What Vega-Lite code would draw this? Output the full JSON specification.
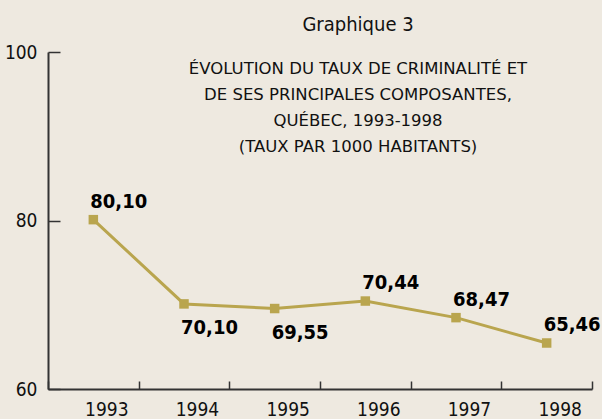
{
  "$schema": "https://vega.github.io/schema/vega-lite/v6.json",
  "width": 544,
  "height": 337,
  "autosize": {"type": "none"},
  "padding": {"left": 48, "top": 52, "right": 10, "bottom": 30},
  "background": "#EEE9E0",
  "config": {"view": {"stroke": null}},
  "title": {
    "text": "Graphique 3",
    "subtitle": ["ÉVOLUTION DU TAUX DE CRIMINALITÉ ET", "DE SES PRINCIPALES COMPOSANTES,", "QUÉBEC, 1993-1998", "(TAUX PAR 1000 HABITANTS)"],
    "anchor": "middle",
    "frame": "group",
    "dx": 38,
    "dy": 116,
    "font": "DejaVu Sans Condensed",
    "fontSize": 20,
    "fontWeight": "normal",
    "color": "#111111",
    "subtitleFont": "DejaVu Sans",
    "subtitleFontSize": 16.5,
    "subtitleColor": "#111111",
    "subtitleLineHeight": 26,
    "subtitlePadding": 26
  },
  "data": {
    "values": [
      {"annee": "1993", "taux": 80.10, "etiquette": "80,10"},
      {"annee": "1994", "taux": 70.10, "etiquette": "70,10"},
      {"annee": "1995", "taux": 69.55, "etiquette": "69,55"},
      {"annee": "1996", "taux": 70.44, "etiquette": "70,44"},
      {"annee": "1997", "taux": 68.47, "etiquette": "68,47"},
      {"annee": "1998", "taux": 65.46, "etiquette": "65,46"}
    ]
  },
  "encoding": {
    "x": {
      "field": "annee",
      "type": "ordinal",
      "scale": {"type": "band", "paddingInner": 0, "paddingOuter": 0},
      "axis": {
        "title": null,
        "labelAngle": 0,
        "domainColor": "#333333",
        "domainWidth": 2,
        "tickColor": "#333333",
        "tickWidth": 1.5,
        "tickSize": -8,
        "tickBand": "extent",
        "labelFont": "DejaVu Sans Condensed",
        "labelFontSize": 19,
        "labelColor": "#111111",
        "labelPadding": 19,
        "labelOffset": 13
      }
    },
    "y": {
      "field": "taux",
      "type": "quantitative",
      "scale": {"domain": [60, 100], "nice": false, "zero": false},
      "axis": {
        "title": null,
        "values": [60, 80, 100],
        "grid": false,
        "domainColor": "#333333",
        "domainWidth": 2,
        "tickColor": "#333333",
        "tickWidth": 1.5,
        "tickSize": -12,
        "labelFont": "DejaVu Sans Condensed",
        "labelFontSize": 19,
        "labelColor": "#111111",
        "labelPadding": 23
      }
    }
  },
  "layer": [
    {"mark": {"type": "line", "color": "#B9A54E", "strokeWidth": 3}},
    {"mark": {"type": "square", "color": "#B9A54E", "filled": true, "opacity": 1, "size": 90}},
    {
      "transform": [{"filter": {"field": "annee", "oneOf": ["1994", "1995"]}}],
      "mark": {"type": "text", "align": "left", "baseline": "middle", "dx": -3, "dy": 24, "font": "DejaVu Sans Condensed", "fontSize": 20, "fontWeight": "bold", "color": "#000000"},
      "encoding": {"text": {"field": "etiquette"}}
    },
    {
      "transform": [{"filter": {"field": "annee", "oneOf": ["1993", "1996", "1997", "1998"]}}],
      "mark": {"type": "text", "align": "left", "baseline": "middle", "dx": -3, "dy": -18, "font": "DejaVu Sans Condensed", "fontSize": 20, "fontWeight": "bold", "color": "#000000"},
      "encoding": {"text": {"field": "etiquette"}}
    }
  ]
}
